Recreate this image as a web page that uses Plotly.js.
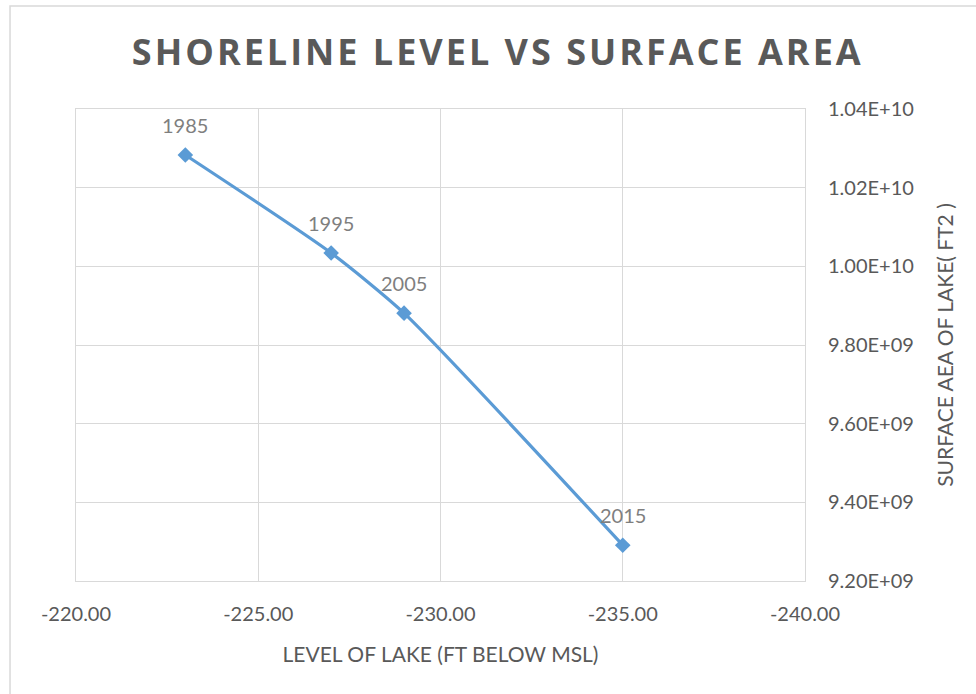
<!DOCTYPE html>
<html>
<head>
<meta charset="utf-8">
<script src="https://cdn.plot.ly/plotly-3.0.1.min.js"></script>
<style>
html,body{margin:0;padding:0;background:#fff;}
#chart{width:976px;height:694px;}
#chart .gtitle{letter-spacing:3px;}
</style>
</head>
<body>
<div id="chart"></div>
<script>
const years = ['1985', '1995', '2005', '2015'];
const lakeLevel = [-223, -227, -229, -235];
const surfaceArea = [1.0283e10, 1.0034e10, 9.881e9, 9.291e9];
const xTickVals = [-220, -225, -230, -235, -240];
const xTickLabels = ['-220.00', '-225.00', '-230.00', '-235.00', '-240.00'];
const yTickVals = [9.2e9, 9.4e9, 9.6e9, 9.8e9, 1.0e10, 1.02e10, 1.04e10];
const yTickLabels = ['9.20E+09', '9.40E+09', '9.60E+09', '9.80E+09', '1.00E+10', '1.02E+10', '1.04E+10'];

const fam = 'Lato, "Open Sans", sans-serif';
const tickFont = {family: fam, size: 20, color: '#595959'};
const axTitleFont = {family: fam, size: 21, color: '#595959'};

const trace = {
  x: lakeLevel, y: surfaceArea, mode: 'lines+markers', type: 'scatter',
  line: {color: '#5B9BD5', width: 3.2, shape: 'spline', smoothing: 0.6},
  marker: {symbol: 'diamond', size: 12, color: '#5B9BD5'},
  hoverinfo: 'none', showlegend: false
};

const annotations = years.map((yr, i) => ({
  x: lakeLevel[i], y: surfaceArea[i], xref: 'x', yref: 'y',
  text: yr, showarrow: false, yshift: 30,
  font: {family: fam, size: 20, color: '#7f7f7f'}
}));

const layout = {
  width: 976, height: 694,
  margin: {l: 76, r: 171, t: 109, b: 113},
  paper_bgcolor: '#ffffff', plot_bgcolor: '#ffffff',
  title: {
    text: 'SHORELINE LEVEL VS SURFACE AREA',
    font: {family: '"Open Sans", sans-serif', size: 36, color: '#595959', weight: 700},
    x: 0.51, xanchor: 'center', y: 0.925, yanchor: 'middle'
  },
  xaxis: {
    range: [-220, -240], tickvals: xTickVals, ticktext: xTickLabels,
    showgrid: true, gridcolor: '#d9d9d9', gridwidth: 1, zeroline: false,
    showline: true, mirror: true, linecolor: '#d9d9d9', linewidth: 1,
    ticks: '', tickfont: tickFont, ticklabelstandoff: 15,
    title: {text: 'LEVEL OF LAKE (FT BELOW MSL)', font: axTitleFont, standoff: 23}
  },
  yaxis: {
    side: 'right', range: [9.2e9, 1.04e10], tickvals: yTickVals, ticktext: yTickLabels,
    showgrid: true, gridcolor: '#d9d9d9', gridwidth: 1, zeroline: false,
    showline: true, mirror: true, linecolor: '#d9d9d9', linewidth: 1,
    ticks: '', tickfont: tickFont, ticklabelstandoff: 18,
    title: {text: 'SURFACE AEA OF LAKE( FT2 )', font: axTitleFont, standoff: 25}
  },
  annotations: annotations,
  shapes: [
    {type: 'rect', xref: 'paper', yref: 'paper', x0: -0.0905, x1: 1.3, y0: -0.4, y1: 1.2182,
     line: {color: '#d9d9d9', width: 1.5}, fillcolor: 'rgba(0,0,0,0)', layer: 'below'}
  ]
};

Plotly.newPlot('chart', [trace], layout, {displayModeBar: false, staticPlot: true});
</script>
</body>
</html>
